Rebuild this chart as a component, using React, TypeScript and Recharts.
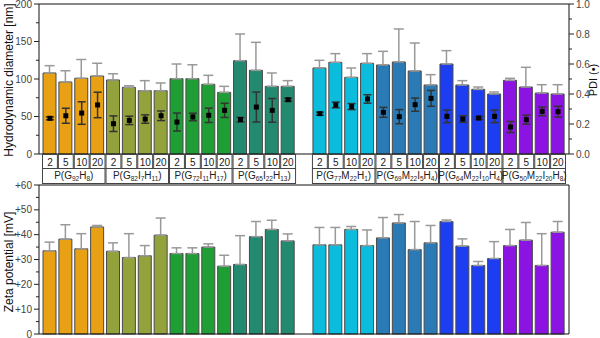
import { ComposedChart, Bar, Line, XAxis, YAxis, ErrorBar, Cell, ReferenceLine } from 'recharts';

// categories
const concentrations = ['2', '5', '10', '20'];
const groupLabels = [
  'P(G92H8)', 'P(G82I7H11)', 'P(G72I11H17)', 'P(G65I22H13)',
  'P(G77M22H1)', 'P(G69M22I5H4)', 'P(G64M22I10H4)', 'P(G50M22I20H8)',
];
const groupColors = ['#E8A115', '#94A23B', '#1F9E35', '#238A70', '#0BBCDD', '#2A7AB6', '#1C3DF2', '#8C14E3'];

// hydrodynamic diameter [nm]
const sizeMean = [108, 96, 101, 104, 98.7, 88.9, 84.4, 84.4, 100.4, 100.4, 92.9, 82.2, 124.4, 111.6, 90.2, 90.2,
  114.7, 122.2, 102.2, 120.9, 118.7, 122.7, 110.7, 92, 120, 92, 86.2, 80, 98.2, 89.3, 81.3, 80];
const sizeSd = [9.8, 15, 25, 17, 8.3, 2.1, 13.4, 10.3, 19.6, 18.6, 12, 8, 35.6, 37.3, 17.8, 7.6,
  10.2, 11.6, 12.5, 12.9, 18.2, 44, 37.3, 13.8, 17.8, 5.8, 3.1, 2.7, 2.7, 26.3, 11.1, 12.4];

// PDI
const pdiMean = [0.238, 0.255, 0.273, 0.327, 0.202, 0.224, 0.233, 0.255, 0.213, 0.247, 0.258, 0.291, 0.229, 0.313, 0.291, 0.362,
  0.269, 0.327, 0.316, 0.367, 0.278, 0.249, 0.329, 0.371, 0.251, 0.233, 0.24, 0.251, 0.18, 0.229, 0.284, 0.282];
const pdiSd = [0.01, 0.05, 0.075, 0.085, 0.052, 0.028, 0.028, 0.032, 0.06, 0.025, 0.048, 0.047, 0.015, 0.1, 0.079, 0.01,
  0.01, 0.019, 0.02, 0.028, 0.033, 0.047, 0.044, 0.053, 0.042, 0.022, 0.01, 0.042, 0.037, 0.03, 0.029, 0.036];

// zeta potential [mV]
const zetaMean = [33.5, 38.2, 34.3, 43.1, 33.3, 30.8, 31.5, 39.8, 32.4, 32.4, 35, 27.3, 28, 39.2, 42.1, 37.5,
  35.9, 35.9, 42.1, 35.6, 38.7, 44.7, 34, 36.7, 45.3, 35.4, 27.6, 30.4, 35.6, 37.8, 27.6, 41];
const zetaSd = [3.5, 5.8, 6.1, 0.6, 3.4, 9.6, 4.1, 6.9, 2.3, 2.3, 1.3, 4.4, 11.6, 6.1, 3.7, 2.8,
  7, 7, 1.2, 6.3, 8.2, 3.4, 11.3, 7, 0.6, 2.9, 1.6, 6.8, 6.5, 7.1, 12.8, 4.3];

const sizeTicks = [0, 25, 50, 75, 100, 125, 150, 175, 200];
const pdiTicks = [0, 0.1, 0.2, 0.3, 0.4, 0.5, 0.6, 0.7, 0.8, 0.9, 1.0];
const zetaTicks = [0, 5, 10, 15, 20, 25, 30, 35, 40, 45, 50, 55, 60];

// table rows, with an empty slot between the two halves
const rows: any[] = [];
sizeMean.forEach((v, i) => {
  if (i === 16) rows.push({ key: 'gap', spacer: true });
  rows.push({
    key: `s${i}`,
    conc: concentrations[i % 4],
    group: Math.floor(i / 4),
    size: v,
    sizeErr: [0, sizeSd[i]],
    pdi: pdiMean[i],
    pdiErr: pdiSd[i],
    zeta: zetaMean[i],
    zetaErr: [0, zetaSd[i]],
  });
});

const BW = 524 / rows.length;
const FONT = '"Liberation Sans", Arial, sans-serif';

function makeTick(side: 'left' | 'right', isMajor: (v: number) => boolean, fmt: (v: number) => string) {
  return (props: any) => {
    const { x, y, payload } = props;
    const v = payload.value;
    const major = isMajor(v);
    const dir = side === 'left' ? -1 : 1;
    return (
      <g>
        <line x1={x} x2={x + dir * (major ? 5 : 3)} y1={y} y2={y} stroke="#222" />
        {major && (
          <text x={x + dir * 7} y={y} dy="0.35em" textAnchor={side === 'left' ? 'end' : 'start'}
            fontSize={10} fill="#444">{fmt(v)}</text>
        )}
      </g>
    );
  };
}

function GroupLabel({ x, y, label }: { x: number; y: number; label: string }) {
  const parts = label.match(/\d+|\D+/g) || [];
  let sub = false;
  return (
    <text x={x} y={y} textAnchor="middle" fontSize={10} fill="#222">
      {parts.map((p, i) => {
        const isNum = /\d/.test(p);
        const dy = isNum ? 2 : sub ? -2 : 0;
        sub = isNum;
        return <tspan key={i} dy={dy} fontSize={isNum ? 6.5 : 10}>{p}</tspan>;
      })}
    </text>
  );
}

function TableTick({ x, y, payload }: any) {
  const row = rows.find((r) => r.key === payload.value);
  if (!row || row.spacer) return <g />;
  const first = row.conc === '2';
  return (
    <g>
      <rect x={x - BW / 2 + 0.5} y={y + 0.5} width={BW - 1} height={14} fill="#fff" stroke="#444" />
      <text x={x} y={y + 11.5} textAnchor="middle" fontSize={10} fill="#222">{row.conc}</text>
      {first && (
        <g>
          <rect x={x - BW / 2 + 0.5} y={y + 14.5} width={BW * 4 - 1} height={15} fill="#fff" stroke="#444" />
          <GroupLabel x={x - BW / 2 + BW * 2} y={y + 25} label={groupLabels[row.group]} />
        </g>
      )}
    </g>
  );
}

const squareDot = (p: any) =>
  p.cy == null ? <g key={p.key} /> : <rect key={p.key} x={p.cx - 2.5} y={p.cy - 2.5} width={5} height={5} fill="#000" />;

function AxisTitle({ x, y, text, size }: { x: number; y: number; text: string; size: number }) {
  return (
    <text x={x} y={y} transform={`rotate(-90 ${x} ${y})`} textAnchor="middle" dominantBaseline="central"
      fontSize={size} fill="#111">{text}</text>
  );
}

export default function App() {
  return (
    <div style={{ position: 'fixed', left: 0, top: 0, width: 600, height: 338, background: '#fff', fontFamily: FONT }}>
      <div style={{ position: 'absolute', left: 0, top: 0 }}>
        <ComposedChart width={600} height={186} data={rows} margin={{ top: 4, right: 0, bottom: 0, left: 0 }}>
          <XAxis dataKey="key" interval={0} height={32} padding={{ left: 3, right: 3 }}
            axisLine={{ stroke: '#111' }} tickLine={false} tickSize={0} tickMargin={0} tick={<TableTick />} />
          <YAxis yAxisId="size" domain={[0, 200]} ticks={sizeTicks} interval={0} width={39}
            axisLine={{ stroke: '#111' }} tickLine={false} tickSize={0} tickMargin={0}
            tick={makeTick('left', (v) => v % 50 === 0, (v) => String(v))} />
          <YAxis yAxisId="pdi" orientation="right" domain={[0, 1]} ticks={pdiTicks} interval={0} width={31}
            axisLine={{ stroke: '#111' }} tickLine={false} tickSize={0} tickMargin={0}
            tick={makeTick('right', (v) => Math.round(v * 10) % 2 === 0, (v) => v.toFixed(1))} />
          <ReferenceLine yAxisId="size" y={200} stroke="#111" />
          <Bar yAxisId="size" dataKey="size" barSize={13} stroke="#4a4a4a" isAnimationActive={false}>
            {rows.map((r) => (
              <Cell key={r.key} fill={r.spacer ? 'none' : groupColors[r.group]} />
            ))}
            <ErrorBar dataKey="sizeErr" width={5} stroke="#999" direction="y" />
          </Bar>
          <Line yAxisId="pdi" dataKey="pdi" stroke="none" dot={squareDot} activeDot={false} isAnimationActive={false}>
            <ErrorBar dataKey="pdiErr" width={4} stroke="#333" direction="y" />
          </Line>
        </ComposedChart>
      </div>
      <div style={{ position: 'absolute', left: 0, top: 176 }}>
        <ComposedChart width={600} height={162} data={rows} margin={{ top: 9, right: 0, bottom: 0, left: 0 }}>
          <XAxis dataKey="key" interval={0} height={4} padding={{ left: 3, right: 3 }}
            axisLine={{ stroke: '#111' }} tickLine={false} tick={false} />
          <YAxis yAxisId="zeta" domain={[0, 60]} ticks={zetaTicks} interval={0} width={39}
            axisLine={{ stroke: '#111' }} tickLine={false} tickSize={0} tickMargin={0}
            tick={makeTick('left', (v) => v % 10 === 0, (v) => (v === 0 ? '0' : `+${v}`))} />
          <YAxis yAxisId="frame" orientation="right" width={31} domain={[0, 60]}
            axisLine={{ stroke: '#111' }} tickLine={false} tick={false} />
          <ReferenceLine yAxisId="zeta" y={60} stroke="#111" />
          <Bar yAxisId="zeta" dataKey="zeta" barSize={13} stroke="#4a4a4a" isAnimationActive={false}>
            {rows.map((r) => (
              <Cell key={r.key} fill={r.spacer ? 'none' : groupColors[r.group]} />
            ))}
            <ErrorBar dataKey="zetaErr" width={5} stroke="#999" direction="y" />
          </Bar>
        </ComposedChart>
      </div>
      <svg width={600} height={338} style={{ position: 'absolute', left: 0, top: 0, pointerEvents: 'none' }}>
        <AxisTitle x={9} y={80} text="Hydrodynamic diameter [nm]" size={12} />
        <AxisTitle x={9} y={262} text="Zeta potential [mV]" size={12} />
        <AxisTitle x={593} y={80} text="PDI (•)" size={11} />
      </svg>
    </div>
  );
}
